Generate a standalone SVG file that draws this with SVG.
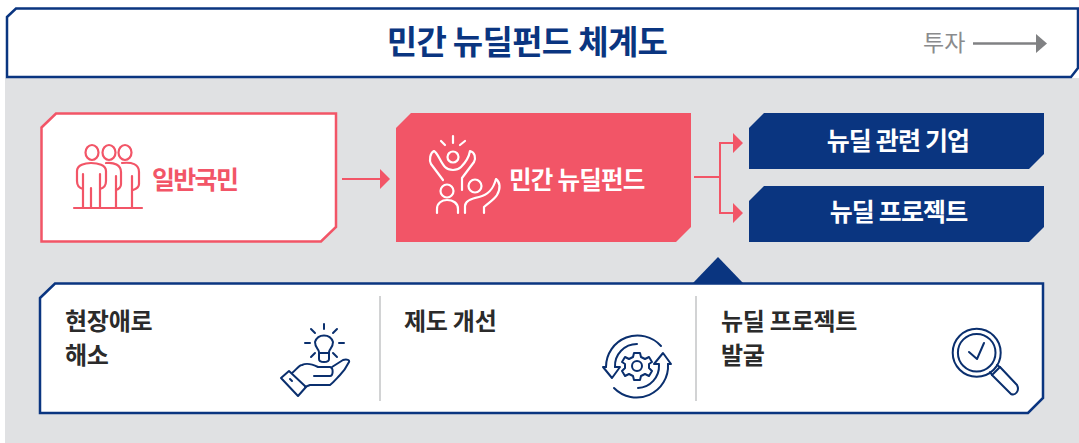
<svg xmlns="http://www.w3.org/2000/svg" width="1079" height="443" viewBox="0 0 1079 443">
<style>
text{font-family:"Noto Sans CJK KR","Noto Sans",sans-serif;font-weight:700}
.ic{fill:none;stroke-width:2;stroke-linecap:round;stroke-linejoin:round}
.n{stroke:#0a2f6e}.p{stroke:#f25567;stroke-width:2.2}.w{stroke:#fff;stroke-width:2.2}
.conn{fill:none;stroke:#f25567;stroke-width:2}
.lb{font-size:24px;fill:#2b2b2b;letter-spacing:-.25px}
</style>
<rect width="1079" height="443" fill="#fff"/>
<rect x="5" y="78" width="1074" height="365" fill="#e0e1e3"/>
<g id="title">
<path d="M7 17L16 8.500H1078V68L1071 77H7Z" fill="#fff" stroke="#0a3580" stroke-width="2.500"/>
<text x="527" y="54" text-anchor="middle" font-size="33" fill="#0a3580" letter-spacing="-.7">민간 뉴딜펀드 체계도</text>
<text x="923" y="51" font-size="23" fill="#8a8b8d" style="font-weight:400">투자</text>
<path d="M973 43.500H1036" stroke="#808183" stroke-width="2.500"/>
<path d="M1036 34L1047 43.500L1036 53Z" fill="#808183"/>
</g>
<g id="people">
<path d="M41.500 127.500L56 113.500H336V227L321 241.500H41.500Z" fill="#fff" stroke="#f25567" stroke-width="2.500"/>
<g class="ic p">
<ellipse cx="92" cy="152.500" rx="6.500" ry="7.500"/><ellipse cx="109" cy="152.500" rx="6.500" ry="7.500"/><ellipse cx="125" cy="152.500" rx="6.500" ry="7.500"/>
<path d="M74 208H142"/>
<path d="M83 208V174M91 208V188M100 208V174M116 208V176M132 208V176"/>
<path d="M83 189C79 188 77 185 77 181V171C77 165 85 163 91 163C98 163 106 165 106 171V181C106 185 104 188 100 189"/>
<path d="M106 163C114 162 121 165 121 172V184C121 187 119 189 116 190"/>
<path d="M122 163C132 162 139 164 139 172V184C139 187 136 189 133 190"/>
</g>
<text x="152" y="189" font-size="25" fill="#f25567" letter-spacing="-1.700">일반국민</text>
</g>
<g id="fund">
<path d="M396 128L411 113H691V227L676 242H396Z" fill="#f25567"/>
<g class="ic w">
<circle cx="453" cy="157" r="5.500"/>
<path d="M453 136V143M441 141L445 145M465 141L460 145"/>
<path d="M443 180L431 164C429 160 430 153 434 151C438 153 440 162 445 167C449 171 457 171 461 167C466 162 469 157 470 151C475 152 476 158 474 162L462 178V190"/>
<circle cx="447" cy="191" r="6.500"/>
<path d="M437 213V209C437 203 442 200 447 200C453 200 458 203 458 209V213"/>
<circle cx="475" cy="186" r="6.500"/>
<path d="M465 213V206C465 200 474 198 479 197C488 195 493 190 496 179C500 182 501 188 497 195C494 200 488 203 484 207V213"/>
</g>
<text x="509" y="189" font-size="24.500" fill="#fff" letter-spacing="-.75">민간 뉴딜펀드</text>
</g>
<g id="company">
<path d="M749 128L764 113H1044V154L1029 169H749Z" fill="#0a3580"/>
<text x="898" y="150" text-anchor="middle" font-size="25" fill="#fff" letter-spacing="-.85">뉴딜 관련 기업</text>
</g>
<g id="project">
<path d="M749 201L764 186H1044V227L1029 242H749Z" fill="#0a3580"/>
<text x="898.500" y="221" text-anchor="middle" font-size="25" fill="#fff" letter-spacing="-.85">뉴딜 프로젝트</text>
</g>
<g id="connectors">
<path class="conn" d="M342 179H381"/>
<path d="M380 169L390 179L380 189Z" fill="#f25567"/>
<path class="conn" d="M694 177H720M734 143H720V213H734"/>
<path d="M733 133L743 143L733 153ZM733 203L743 213L733 223Z" fill="#f25567"/>
</g>
<g id="support">
<path d="M693 283L718 257L743 283Z" fill="#0a3580"/>
<path d="M40 298L55 283.500H1043V398L1028 413H40Z" fill="#fff" stroke="#0a3580" stroke-width="2.500"/>
<path d="M380 296V401M696 296V401" stroke="#b5b6b8" stroke-width="1.200"/>
<text class="lb" x="65" y="330">현장애로</text>
<text class="lb" x="65" y="364">해소</text>
<text class="lb" x="404" y="330">제도 개선</text>
<text class="lb" x="721" y="330">뉴딜 프로젝트</text>
<text class="lb" x="721" y="364">발굴</text>
</g>
<g id="icon-bulb" class="ic n">
<path d="M324 324V329M311 329L315 333M337 329L333 333M305 343H310M339 343H344M311 357L315 353M337 357L333 353"/>
<path d="M319 353V352C319 349 315 348 315 342A9.500 9.500 0 0 1 333 342C333 348 329 349 329 352V353M319 353H329V359C329 363 319 363 319 359Z"/>
<path d="M281 378L289 371L306 387L298 396Z"/>
<path d="M290 379L292 381"/>
<path d="M292 373C296 370 299 365 302 365C306 363 312 364 318 367H330C334 368 333 376 330 376H314M332 367L343 360C347 359 350 360 349 362C346 368 343 372 340 375C337 378 334 382 330 385H310L305 387"/>
</g>
<g id="icon-gear" class="ic n">
<path d="M661 346A31.500 31.500 0 0 0 606 367M614 388A31.500 31.500 0 0 0 668 364"/>
<path d="M637 344A22 22 0 0 0 615 367M638 388A22 22 0 0 0 659 365"/>
<path d="M606 367H603L612 378L620 367H615M668 364H671L663 353L654 364H659"/>
<circle cx="637" cy="366" r="5"/>
<path d="M634 353H640L641 357L645 359L649 357L652 362L649 364V368L652 371L649 376L645 374L641 376L640 380H634L633 376L629 374L625 376L622 371L625 368V364L622 362L625 357L629 359L633 357Z"/>
</g>
<g id="icon-search" class="ic n">
<circle cx="976.700" cy="352.700" r="24"/>
<circle cx="976.700" cy="352.700" r="18.800"/>
<path d="M969 352L977 359L984 343"/>
<path d="M992 375L1000 367L1017 385C1020 391 1015 396 1011 394Z"/>
<path d="M990 372L992 375M997 365L1000 367"/>
</g>
</svg>
